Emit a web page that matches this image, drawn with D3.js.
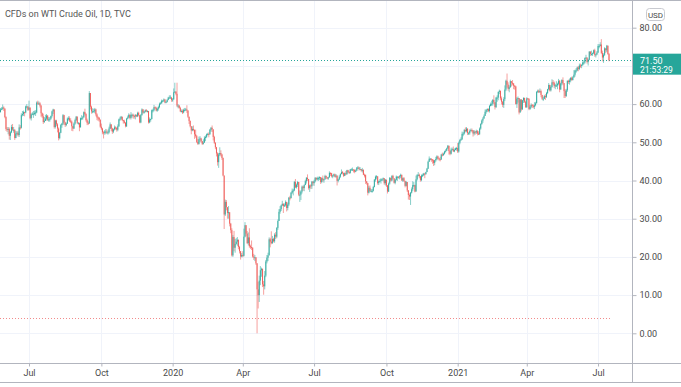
<!DOCTYPE html>
<html lang="en">
<head>
<meta charset="UTF-8">
<title>CFDs on WTI Crude Oil, 1D, TVC</title>
<script src="https://cdnjs.cloudflare.com/ajax/libs/d3/7.8.5/d3.min.js"></script>
<style>
  body { margin: 0; background: #fff; }
  svg { display: block; font-family: Roboto, "Noto Sans", sans-serif; }
  text { fill: #4a4a4a; font-size: 9px; }
</style>
</head>
<body>
<svg id="chart" width="681" height="387"></svg>
<script>
// daily bars as [close, high, low]; each bar opens at the previous close
const firstOpen = 61.4;
const may19 = [[57.9,61.0,57.5],[58.6,59.0,57.8],[58.8,59.2,58.4],[59.1,59.9,58.5],[58.8,59.4,58.2],[56.6,58.9,56.3],[53.5,56.8,53.0]];
const jun19 = [[53.3,54.0,52.7],[53.5,54.0,52.1],[51.7,53.9,50.7],[52.6,52.9,50.6],[54.0,54.6,52.4],[53.3,54.8,53.0],[53.3,54.0,52.5],[51.1,53.4,50.6],[52.3,53.0,51.1],[52.5,52.9,51.8],
  [51.9,53.0,51.5],[53.9,54.7,51.4],[53.8,54.5,53.3],[57.1,57.6,53.6],[57.4,58.2,56.8],[57.9,58.3,56.9],[57.8,58.0,56.8],[59.4,59.6,57.6],[59.4,60.0,58.9],[58.5,59.4,58.2]];
const jul19 = [[59.1,60.9,58.3],[56.3,59.0,56.0],[57.3,57.6,55.7],[57.5,57.9,57.1],[57.5,58.2,56.4],[57.7,58.3,57.1],[57.8,58.4,56.9],[60.4,60.7,57.6],[60.2,60.9,59.8],[60.2,60.7,59.8],
  [59.6,60.5,59.1],[57.6,59.8,56.7],[56.8,57.8,56.4],[55.3,57.5,54.8],[55.6,56.6,55.1],[56.2,57.2,55.6],[57.0,57.4,55.7],[55.9,57.1,55.6],[56.0,56.6,55.4],[56.2,56.6,55.4],
  [56.9,57.0,55.9],[58.1,58.3,56.5],[58.6,58.8,57.4]];
const aug19 = [[54.0,58.6,53.6],[55.7,55.9,53.6],[54.7,55.9,54.2],[53.6,55.0,52.6],[51.1,53.9,50.5],[52.5,52.7,50.8],[54.5,54.8,52.4],[54.9,55.1,53.8],[57.1,57.4,54.5],[55.2,57.2,54.6],
  [54.5,55.4,54.0],[54.9,55.2,54.2],[56.2,56.5,54.8],[56.3,56.8,55.7],[55.7,56.8,55.3],[55.4,56.3,55.0],[54.2,55.7,53.0],[53.6,54.3,52.9],[54.9,55.2,53.5],[55.8,56.2,54.6],
  [56.7,56.9,55.6],[55.1,56.8,54.8]];
const sep19 = [[55.1,55.3,54.6],[53.9,55.0,52.9],[56.3,56.5,54.0],[56.3,57.1,55.8],[56.5,56.9,55.9],[57.9,58.1,56.5],[57.4,58.8,57.0],[55.8,57.6,55.4],[55.1,56.2,54.5],[54.9,55.5,54.5],
  [62.9,63.4,54.9],[59.3,62.7,58.6],[58.1,59.6,57.5],[58.1,58.9,57.6],[58.1,58.8,57.9],[58.6,59.0,57.6],[57.3,58.8,56.8],[56.5,57.6,55.8],[56.4,56.8,55.6],[55.9,56.6,55.4],
  [54.1,56.0,53.8]];
const oct19 = [[53.6,54.9,53.2],[52.6,53.8,52.1],[52.5,52.9,51.0],[52.8,53.2,52.0],[52.8,53.5,52.1],[52.6,53.4,52.2],[52.6,53.1,52.0],[53.6,54.1,52.3],[54.7,55.2,53.5],[53.6,54.6,52.9],
  [52.8,53.8,52.2],[53.4,53.6,52.4],[53.9,54.4,53.1],[53.8,54.2,53.3],[53.3,53.9,52.8],[54.2,54.7,52.9],[56.0,56.2,54.0],[56.2,56.7,55.6],[56.7,56.9,55.9],[55.8,56.7,55.6],
  [55.5,55.9,54.9],[55.1,55.9,54.9],[54.2,55.3,53.9]];
const nov19 = [[56.2,56.4,54.0],[56.5,57.0,56.0],[57.2,57.6,56.3],[56.4,57.3,56.0],[57.2,57.9,56.0],[57.2,57.5,56.5],[56.9,57.5,56.2],[56.8,57.2,56.2],[57.1,57.4,56.0],[56.8,57.3,56.6],
  [57.7,58.0,56.6],[57.1,58.0,56.8],[55.2,57.1,55.0],[57.1,57.4,55.0],[58.6,58.9,57.0],[57.8,58.7,57.5],[58.0,58.2,57.5],[58.4,58.6,57.8],[58.1,58.7,57.9],[58.2,58.4,57.8],
  [55.2,58.2,54.9]];
const dec19 = [[56.0,56.5,55.0],[56.1,56.2,55.4],[58.4,58.6,56.0],[58.4,58.8,57.8],[59.2,59.8,58.1],[59.0,59.4,58.7],[58.3,59.3,58.1],[58.8,59.1,58.0],[59.2,59.6,58.3],[60.1,60.4,58.9],
  [60.2,60.6,59.9],[60.9,61.2,60.1],[60.9,61.1,60.5],[61.2,61.5,60.6],[60.4,61.3,60.2],[60.5,60.8,60.3],[61.1,61.3,60.5],[61.7,61.9,61.0],[61.7,62.3,61.5],[61.7,62.3,61.5],
  [61.1,61.9,60.6]];
const jan20 = [[61.2,61.6,60.6],[63.1,64.1,61.3],[63.3,65.6,62.9],[62.7,63.3,62.3],[59.6,65.6,59.2],[59.6,60.0,58.9],[59.0,59.8,58.8],[58.1,59.3,57.9],[58.2,58.6,57.8],[57.8,58.6,57.4],
  [58.5,58.8,57.6],[58.5,59.0,58.1],[58.6,59.0,58.3],[58.3,59.7,57.7],[56.7,58.4,56.4],[55.6,56.7,54.8],[54.2,55.7,53.9],[53.1,53.8,52.1],[53.5,54.2,52.9],[53.3,54.4,52.9],
  [52.1,53.3,50.9],[51.6,53.3,51.2]];
const feb20 = [[50.1,51.9,49.8],[49.6,50.9,49.3],[50.8,51.5,49.4],[51.0,51.6,50.1],[50.3,51.2,49.9],[49.6,50.3,49.3],[49.9,50.8,49.4],[51.2,51.6,49.9],[51.4,51.8,50.3],[52.1,52.3,51.1],
  [52.2,52.5,51.8],[52.1,52.6,51.3],[53.3,53.5,52.0],[53.8,54.0,52.8],[53.4,54.4,52.7],[51.4,53.4,50.5],[49.9,51.7,49.6],[48.7,50.0,48.2],[47.1,48.8,46.3],[44.8,47.4,43.9]];
const mar20 = [[46.8,47.2,43.3],[47.2,48.7,46.4],[46.8,47.9,46.3],[45.9,47.0,45.4],[41.3,46.0,41.1],[31.1,34.9,27.3],[34.4,35.0,30.7],[33.0,34.9,32.2],[31.5,33.0,30.0],[31.7,33.3,30.0],
  [28.7,31.0,28.0],[27.0,28.9,26.2],[20.4,27.5,20.1],[25.2,25.7,20.0],[22.4,26.8,21.5],[23.4,24.7,21.1],[24.0,24.9,23.2],[24.5,25.2,22.9],[22.6,24.5,22.0],[21.5,22.9,20.9],
  [20.1,21.4,19.3],[20.5,21.0,19.9]];
const apr20 = [[20.3,21.5,19.9],[25.3,27.4,20.1],[28.3,29.1,25.1],[26.1,28.0,25.4],[23.6,26.8,23.4],[25.1,26.4,23.0],[22.8,27.5,22.4],[22.6,23.2,22.1],[22.4,24.3,21.8],[20.1,22.5,19.8],
  [19.9,20.8,19.2],[19.9,20.5,18.9],[18.3,19.7,17.9],[11.5,18.4,0.0],[10.0,13.5,6.5],[13.8,15.1,8.2],[16.5,17.6,12.6],[16.9,17.2,14.8],[12.8,16.9,12.1],[12.3,13.7,10.1],
  [15.1,16.3,11.5],[18.8,19.2,14.7]];
const may20 = [[19.8,20.5,18.3],[20.4,21.1,18.9],[24.6,25.1,20.4],[24.0,25.0,22.5],[23.6,26.7,23.3],[24.7,25.5,23.4],[24.1,25.0,23.8],[25.8,26.2,23.7],[25.3,26.5,24.7],[27.6,27.8,24.9],
  [29.4,29.8,27.1],[31.8,32.5,29.4],[32.5,33.3,31.3],[33.5,33.7,32.0],[33.9,34.7,33.3],[33.3,34.0,31.5],[33.5,34.0,33.1],[34.4,34.8,33.2],[32.8,34.3,31.9],[33.7,34.2,32.2],
  [35.5,35.7,33.3]];
const jun20 = [[35.4,36.0,34.8],[36.8,37.0,35.3],[37.3,37.9,36.5],[37.4,37.8,36.1],[39.6,39.9,37.2],[38.2,40.4,38.0],[38.9,39.2,37.9],[39.6,39.9,38.3],[36.3,39.5,35.9],[36.3,37.4,34.4],
  [37.1,37.4,34.9],[38.4,38.7,36.6],[38.0,38.6,37.3],[38.8,39.0,37.2],[39.8,40.2,38.8],[40.7,40.9,39.2],[40.4,41.6,39.9],[38.0,40.4,37.6],[38.7,38.9,37.0],[38.5,39.0,37.8],
  [39.7,39.9,37.8],[39.3,39.8,38.7]];
const jul20 = [[39.8,40.2,38.6],[40.7,40.9,39.5],[40.3,40.8,40.0],[40.6,41.0,40.0],[40.6,41.0,39.9],[40.9,41.1,40.1],[39.6,40.9,39.1],[40.6,40.8,39.3],[40.1,41.3,39.7],[40.3,40.4,39.4],
  [41.2,41.5,40.2],[40.8,41.3,40.4],[40.6,40.9,40.3],[40.8,41.0,40.2],[42.0,42.4,40.8],[41.9,42.1,41.2],[41.1,42.0,40.8],[41.3,41.5,40.6],[41.6,41.8,41.0],[41.0,41.8,40.8],
  [41.3,41.7,40.7],[39.9,41.2,38.7],[40.3,40.5,39.5]];
const aug20 = [[41.0,41.4,40.1],[41.7,41.9,40.7],[42.2,42.9,41.6],[42.0,42.5,41.6],[41.2,42.0,40.9],[41.9,42.1,41.2],[41.6,42.5,41.4],[42.7,42.8,41.6],[42.2,42.8,42.0],[42.0,42.4,41.7],
  [42.9,43.0,41.8],[42.9,43.2,42.6],[42.9,43.4,42.5],[42.8,42.9,42.1],[42.3,42.9,41.9],[42.6,42.9,42.2],[43.4,43.5,42.5],[43.4,43.8,43.0],[43.0,43.6,42.6],[43.0,43.5,42.8],
  [42.6,43.0,42.3]];
const sep20 = [[42.8,43.3,42.1],[41.5,42.9,41.4],[41.4,41.8,40.8],[39.8,41.6,39.1],[39.3,39.8,38.9],[36.8,39.4,36.1],[38.1,38.6,36.6],[37.3,38.7,37.0],[37.3,37.8,36.9],[37.3,37.8,36.8],
  [38.3,38.6,37.1],[40.2,40.4,38.2],[41.0,41.3,39.7],[41.1,41.4,40.3],[39.3,41.1,38.9],[39.8,40.0,38.8],[39.9,40.4,39.5],[40.3,40.6,39.2],[40.3,40.5,39.9],[40.6,40.8,39.8],
  [39.3,40.6,38.9],[40.2,40.4,38.7]];
const oct20 = [[38.7,40.0,38.3],[37.1,38.8,36.6],[39.2,39.5,37.0],[40.7,40.9,38.9],[40.0,40.7,39.7],[41.2,41.4,39.8],[40.6,41.5,40.3],[39.4,40.6,39.2],[40.2,40.4,39.0],[41.0,41.3,40.0],
  [41.0,41.1,39.9],[40.9,41.1,40.5],[41.1,41.4,40.3],[41.5,41.8,40.6],[40.0,41.5,39.9],[40.6,40.8,39.6],[39.9,40.9,39.7],[38.6,39.9,38.2],[39.6,39.9,38.4],[37.4,39.5,37.0],
  [36.2,37.5,35.0],[35.8,36.6,34.9]];
const nov20 = [[36.8,37.0,33.6],[37.7,38.2,36.6],[38.8,39.8,37.2],[38.8,39.6,38.3],[37.1,38.9,36.9],[40.3,41.3,37.2],[41.4,41.7,40.0],[41.5,42.2,41.1],[41.1,41.8,40.6],[40.1,41.2,39.7],
  [41.3,41.6,39.8],[41.4,41.8,40.9],[41.8,42.0,41.2],[41.7,42.0,40.6],[42.2,42.3,41.5],[43.1,43.3,42.2],[44.9,45.2,43.0],[45.7,46.3,44.9],[45.7,45.9,45.3],[45.5,45.8,44.9],
  [45.3,45.6,44.4]];
const dec20 = [[44.6,45.5,43.8],[45.3,45.4,44.0],[45.6,46.2,44.9],[46.3,46.6,45.3],[45.8,46.5,45.5],[45.6,45.9,45.2],[45.5,46.2,45.0],[46.8,47.0,45.4],[46.6,47.3,46.3],[47.0,47.3,46.5],
  [47.6,47.8,46.8],[47.8,48.2,47.3],[48.4,48.6,47.7],[49.1,49.3,48.2],[47.7,49.1,46.8],[47.0,47.9,46.6],[48.1,48.6,46.8],[48.2,48.6,47.9],[47.6,48.9,47.5],[48.0,48.4,47.4],
  [48.4,48.6,47.9],[48.5,48.8,47.8]];
const jan21 = [[47.6,49.8,47.2],[49.9,50.2,47.3],[50.6,50.9,49.5],[50.8,51.3,50.4],[52.2,52.8,50.6],[52.3,52.7,51.6],[53.2,53.5,52.0],[52.9,53.9,52.6],[53.6,54.0,52.6],[52.4,53.6,51.9],
  [52.4,52.7,51.9],[53.0,53.4,52.0],[53.2,53.6,52.8],[53.1,53.6,52.6],[52.3,53.2,51.5],[52.8,53.2,51.8],[52.6,53.0,52.0],[52.9,53.3,52.2],[52.3,53.2,51.8],[52.2,52.9,51.9]];
const feb21 = [[53.6,53.9,51.9],[54.8,55.0,53.3],[55.7,56.0,54.6],[56.2,56.6,55.1],[56.9,57.3,56.2],[58.0,58.6,56.9],[58.4,58.7,57.5],[58.7,58.9,57.9],[58.2,58.9,57.9],[59.5,59.8,57.8],
  [60.0,60.4,59.4],[60.1,60.9,59.5],[61.1,61.3,59.6],[60.5,62.3,60.0],[59.2,60.5,58.6],[61.7,61.9,59.0],[61.7,62.3,60.6],[63.2,63.3,61.0],[63.5,63.8,62.6],[61.5,63.2,61.0]];
const mar21 = [[60.6,62.0,59.9],[59.8,60.8,59.2],[61.3,61.8,59.0],[63.8,64.9,60.8],[66.1,66.4,63.4],[65.1,68.0,64.3],[64.0,65.7,63.5],[64.4,64.9,63.1],[66.0,66.4,64.3],[65.6,66.0,64.6],
  [65.4,66.3,64.9],[64.8,65.5,63.9],[64.6,65.0,63.8],[60.0,64.8,59.9],[61.4,61.8,59.0],[61.6,62.0,60.4],[57.8,61.6,57.3],[61.2,61.3,58.0],[58.6,61.3,58.1],[61.0,61.1,58.5],
  [61.6,61.8,60.3],[60.6,61.7,60.3],[59.2,60.9,59.0]];
const apr21 = [[61.5,61.8,59.0],[61.4,61.6,61.2],[58.7,61.5,58.4],[59.3,59.7,58.5],[59.8,60.2,58.9],[59.6,60.0,59.0],[59.3,59.9,58.9],[59.7,60.5,58.7],[60.2,60.6,59.4],[63.2,63.4,60.3],
  [63.5,63.8,62.9],[63.1,63.8,62.9],[63.4,64.1,63.0],[62.4,63.8,61.8],[61.4,62.4,61.1],[61.4,61.9,60.8],[62.1,62.4,61.3],[61.9,62.6,61.1],[62.9,63.2,61.6],[63.9,64.0,62.6],
  [65.0,65.5,63.6],[63.6,65.1,63.3]];
const may21 = [[64.5,64.9,63.3],[65.7,66.5,64.3],[65.6,66.3,65.0],[64.7,65.9,64.2],[64.9,65.3,63.9],[64.9,66.0,64.5],[65.3,65.6,63.9],[66.1,66.6,64.9],[63.8,66.3,63.1],[65.4,65.6,63.9],
  [66.3,66.5,64.9],[65.5,67.0,65.1],[63.4,65.4,61.6],[62.1,63.9,61.6],[63.6,64.0,61.9],[66.1,66.2,63.2],[65.8,66.4,65.3],[66.2,66.7,65.1],[66.9,67.0,65.7],[66.3,67.2,66.1],
  [67.0,67.3,66.2]];
const jun21 = [[67.7,68.9,66.9],[68.8,69.0,67.2],[68.8,69.4,68.2],[69.6,69.8,68.6],[69.2,70.0,68.6],[70.1,70.6,68.9],[70.0,70.6,69.5],[70.3,70.4,69.4],[70.9,71.2,70.0],[70.9,71.5,70.3],
  [72.1,72.2,70.6],[72.2,72.9,71.7],[71.0,72.1,70.6],[71.6,71.9,70.1],[73.7,73.9,71.5],[73.1,73.9,72.6],[73.1,74.0,72.7],[73.3,73.5,72.6],[74.1,74.3,73.1],[72.9,74.5,72.4],
  [73.0,73.2,72.2],[73.5,73.9,72.8]];
const jul21 = [[75.2,75.7,73.4],[75.2,75.7,74.6],[75.6,76.2,75.1],[73.4,77.0,73.1],[72.2,74.0,71.2],[72.9,73.3,70.8],[74.6,74.9,72.6],[74.1,74.6,73.4],[75.3,75.5,73.6],[73.1,75.3,72.9],
  [71.5,73.4,71.2]];

const months = [
  [2019, 4, may19], [2019, 5, jun19], [2019, 6, jul19], [2019, 7, aug19], [2019, 8, sep19], [2019, 9, oct19],
  [2019, 10, nov19], [2019, 11, dec19], [2020, 0, jan20], [2020, 1, feb20], [2020, 2, mar20], [2020, 3, apr20],
  [2020, 4, may20], [2020, 5, jun20], [2020, 6, jul20], [2020, 7, aug20], [2020, 8, sep20], [2020, 9, oct20],
  [2020, 10, nov20], [2020, 11, dec20], [2021, 0, jan21], [2021, 1, feb21], [2021, 2, mar21], [2021, 3, apr21],
  [2021, 4, may21], [2021, 5, jun21], [2021, 6, jul21]
];
const monthNames = ["Jan","Feb","Mar","Apr","May","Jun","Jul","Aug","Sep","Oct","Nov","Dec"];
const priceTicks = [0, 10, 20, 30, 40, 50, 60, 70, 80];
const lastPrice = 71.50;
const lowLine = 3.9;
const countdown = "21:53:29";
const title = "CFDs on WTI Crude Oil, 1D, TVC";

// flatten into OHLC bars
const bars = [];
let prev = firstOpen;
months.forEach(([yr, mo, rows]) => {
  rows.forEach(([c, h, l], j) => {
    bars.push({ yr, mo, first: j === 0, o: prev, c, h: Math.max(h, prev, c), l: Math.min(l, prev, c) });
    prev = c;
  });
});

const W = 681, H = 387;
const axisX = 632, timeTop = 363, timeBottom = 382;
const up = "#26a69a", down = "#ef5350";

const svg = d3.select("#chart");

const x = d3.scaleLinear().domain([0, bars.length - 1]).range([-0.6, 609]);
const y = d3.scaleLinear().domain([0, 80]).range([333.3, 27.7]);

const tickBars = bars.map((b, i) => ({ b, i })).filter(d => d.b.first && d.b.mo % 3 === 0);
const tagY = y(lastPrice);

// grid
svg.append("g").selectAll("line").data(priceTicks).join("line")
  .attr("x1", 0).attr("x2", axisX)
  .attr("y1", d => Math.round(y(d)) + 0.5).attr("y2", d => Math.round(y(d)) + 0.5)
  .attr("stroke", "#f0f3fa");
svg.append("g").selectAll("line").data(tickBars).join("line")
  .attr("x1", d => Math.round(x(d.i)) + 0.5).attr("x2", d => Math.round(x(d.i)) + 0.5)
  .attr("y1", 0).attr("y2", timeTop)
  .attr("stroke", "#f0f3fa");

// price lines
svg.append("line")
  .attr("x1", 0).attr("x2", axisX)
  .attr("y1", Math.round(tagY) + 0.5).attr("y2", Math.round(tagY) + 0.5)
  .attr("stroke", up).attr("stroke-dasharray", "1,2");
svg.append("line")
  .attr("x1", 0).attr("x2", x(bars.length - 1) + 1)
  .attr("y1", Math.round(y(lowLine)) + 0.5).attr("y2", Math.round(y(lowLine)) + 0.5)
  .attr("stroke", "#f28b8b").attr("stroke-dasharray", "1,2");

// candles
const candles = svg.append("g").selectAll("g").data(bars).join("g");
candles.append("rect")
  .attr("x", (d, i) => x(i) - 0.5).attr("width", 1)
  .attr("y", d => y(d.h)).attr("height", d => Math.max(0.5, y(d.l) - y(d.h)))
  .attr("fill", d => d.c >= d.o ? up : down).attr("opacity", 0.55);
candles.append("rect")
  .attr("x", (d, i) => x(i) - 0.5).attr("width", 1)
  .attr("y", d => y(Math.max(d.o, d.c))).attr("height", d => Math.max(1, Math.abs(y(d.o) - y(d.c))))
  .attr("fill", d => d.c >= d.o ? up : down).attr("opacity", 0.85);

// frame
const frame = svg.append("g").attr("stroke", "#b2b5be");
frame.append("line").attr("x1", 0).attr("x2", W).attr("y1", 0.5).attr("y2", 0.5);
frame.append("line").attr("x1", 0).attr("x2", W).attr("y1", timeTop + 0.5).attr("y2", timeTop + 0.5);
frame.append("line").attr("x1", 0).attr("x2", W).attr("y1", timeBottom + 0.5).attr("y2", timeBottom + 0.5);
frame.append("line").attr("x1", axisX + 0.5).attr("x2", axisX + 0.5).attr("y1", 0).attr("y2", timeBottom);

// price axis (the label hidden under the last-price tag is dropped)
const yAxis = svg.append("g")
  .attr("transform", `translate(${axisX + 0.5},0)`)
  .call(d3.axisRight(y).tickValues(priceTicks).tickFormat(d3.format(".2f")).tickSize(4).tickPadding(3));
yAxis.select(".domain").remove();
yAxis.selectAll("line").attr("stroke", "#b2b5be");
yAxis.selectAll(".tick").filter(d => Math.abs(y(d) - tagY) < 14).select("text").remove();
yAxis.selectAll("text").attr("fill", "#4a4a4a").style("font-size", "9px").style("font-family", "Roboto, sans-serif");

// time axis
const xAxis = svg.append("g")
  .attr("transform", `translate(0,${timeTop + 0.5})`)
  .call(d3.axisBottom(x).tickValues(tickBars.map(d => d.i))
    .tickFormat(i => bars[i].mo === 0 ? String(bars[i].yr) : monthNames[bars[i].mo])
    .tickSize(3).tickPadding(3));
xAxis.select(".domain").remove();
xAxis.selectAll("line").attr("stroke", "#b2b5be");
xAxis.selectAll("text").attr("fill", "#4a4a4a").style("font-size", "9px").style("font-family", "Roboto, sans-serif");

// currency badge
svg.append("rect").attr("x", 646.5).attr("y", 8.5).attr("width", 18).attr("height", 12).attr("rx", 3)
  .attr("fill", "#fff").attr("stroke", "#c8cad0");
svg.append("text").attr("x", 655.5).attr("y", 17.5).attr("text-anchor", "middle")
  .style("font-size", "8px").text("USD");

// last price tag
svg.append("rect").attr("x", axisX + 1).attr("y", tagY - 6.5).attr("width", W - axisX).attr("height", 21)
  .attr("fill", up);
svg.append("text").attr("x", 640).attr("y", tagY + 3.5).style("fill", "#fff").style("font-size", "9px").text(lastPrice.toFixed(2));
svg.append("text").attr("x", 640).attr("y", tagY + 12.5).style("fill", "#fff").style("font-size", "8.5px").text(countdown);

// title
svg.append("text").attr("x", 5).attr("y", 17).style("font-size", "9px").style("fill", "#555").text(title);
</script>
</body>
</html>
